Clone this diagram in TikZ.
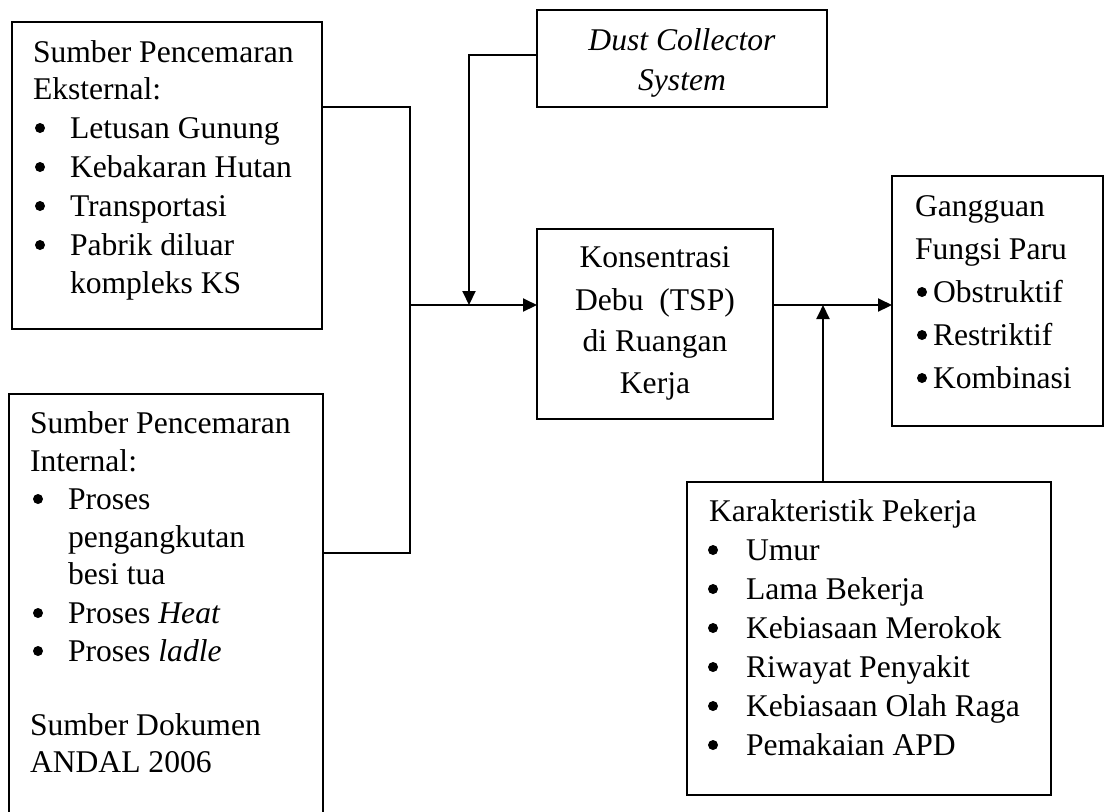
\documentclass[tikz,border=0pt]{standalone}
\usepackage{fontspec}
\setmainfont{Liberation Serif}
\usetikzlibrary{arrows.meta}
\newcommand{\bul}[1]{\makebox[#1][l]{\raisebox{2.5pt}{\tikz\fill (0,0) circle (2.5pt);}}}
\begin{document}
\begin{tikzpicture}[x=0.5pt,y=-0.5pt,
  every node/.style={font=\fontsize{15.8}{19}\selectfont},
  box/.style={draw, line width=1pt, inner sep=0pt, outer sep=0pt},
  txt/.style={inner sep=0pt, outer sep=0pt, anchor=base west},
  ctxt/.style={inner sep=0pt, outer sep=0pt, anchor=base},
  conn/.style={line width=1pt},
  arr/.style={line width=1pt, -{Triangle[length=7pt,width=6.5pt]}}]
\useasboundingbox (0,0) rectangle (1106,811);
\clip (0,0) rectangle (1106,811);
\fill[white] (0,0) rectangle (1106,811);

% boxes
\node[box, minimum width=155pt, minimum height=153.5pt] (ext) at (167,175.5) {};
\node[box, minimum width=157pt, minimum height=218pt] (int) at (166,612) {};
\node[box, minimum width=145pt, minimum height=48.5pt] (dust) at (682,58.5) {};
\node[box, minimum width=118pt, minimum height=95pt] (kons) at (655,324) {};
\node[box, minimum width=105.5pt, minimum height=125pt] (gang) at (997.5,301) {};
\node[box, minimum width=182pt, minimum height=156.5pt] (kar) at (869,638.5) {};

% external text
\node[txt] (e1) at (33,62) {Sumber Pencemaran};
\node[txt] (e2) at (33,99) {Eksternal:};
\node[txt] (e3) at (35,138) {\bul{17.5pt}Letusan Gunung};
\node[txt] (e4) at (35,177) {\bul{17.5pt}Kebakaran Hutan};
\node[txt] (e5) at (35,216) {\bul{17.5pt}Transportasi};
\node[txt] (e6) at (35,255) {\bul{17.5pt}Pabrik diluar};
\node[txt] (e7) at (70,293) {kompleks KS};

% internal text
\node[txt] (i1) at (30,433) {Sumber Pencemaran};
\node[txt] (i2) at (30,471) {Internal:};
\node[txt] (i3) at (33,509) {\bul{17.5pt}Proses};
\node[txt] (i4) at (68,547) {pengangkutan};
\node[txt] (i5) at (68,584) {besi tua};
\node[txt] (i6) at (33,623) {\bul{17.5pt}Proses \textit{Heat}};
\node[txt] (i7) at (33,661) {\bul{17.5pt}Proses \textit{ladle}};
\node[txt] (i8) at (30,735) {Sumber Dokumen};
\node[txt] (i9) at (30,772) {ANDAL 2006};

% dust collector text
\node[ctxt] (d1) at (682,50) {\textit{Dust Collector}};
\node[ctxt] (d2) at (682,90) {\textit{System}};

% konsentrasi text
\node[ctxt] (k1) at (655,267) {Konsentrasi};
\node[ctxt] (k2) at (655,310) {Debu\ \ (TSP)};
\node[ctxt] (k3) at (655,351) {di Ruangan};
\node[ctxt] (k4) at (655,393) {Kerja};

% gangguan text
\node[txt] (g1) at (915,216) {Gangguan};
\node[txt] (g2) at (915,259) {Fungsi Paru};
\node[txt] (g3) at (917,302) {\bul{8pt}Obstruktif};
\node[txt] (g4) at (917,345) {\bul{8pt}Restriktif};
\node[txt] (g5) at (917,388) {\bul{8pt}Kombinasi};

% karakteristik text
\node[txt] (c0) at (709,521) {Karakteristik Pekerja};
\node[txt] (c1) at (708,560) {\bul{19pt}Umur};
\node[txt] (c2) at (708,599) {\bul{19pt}Lama Bekerja};
\node[txt] (c3) at (708,638) {\bul{19pt}Kebiasaan Merokok};
\node[txt] (c4) at (708,677) {\bul{19pt}Riwayat Penyakit};
\node[txt] (c5) at (708,716) {\bul{19pt}Kebiasaan Olah Raga};
\node[txt] (c6) at (708,755) {\bul{19pt}Pemakaian APD};

% connector coordinates
\coordinate (b1) at (410,107);
\coordinate (b2) at (410,553);
\coordinate (jn) at (410,305);
\coordinate (dc) at (469,55);
\coordinate (dj) at (469,305);
\coordinate (kj) at (823,305);

% connectors
\draw[conn] (ext.east |- b1) -- (b1) -- (b2) -- (int.east |- b2);
\draw[arr] (jn) -- (kons.west |- jn);
\draw[arr] (dust.west |- dc) -- (dc) -- (dj);
\draw[arr] (kons.east |- jn) -- (gang.west |- jn);
\draw[arr] (kar.north -| kj) -- (kj);
\end{tikzpicture}
\end{document}
